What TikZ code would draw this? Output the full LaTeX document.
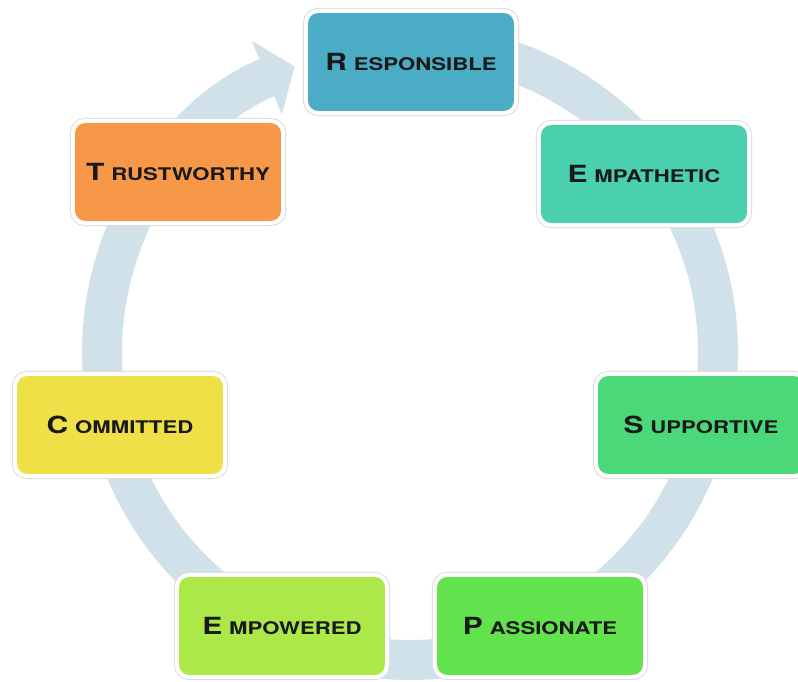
\documentclass[tikz,border=0pt]{standalone}
\usepackage{fontspec}
\newfontfamily\boxfont[FakeStretch=1.27]{TeX Gyre Heros}
\usetikzlibrary{arrows.meta}
\definecolor{ringblue}{HTML}{D0E1E9}
\definecolor{resp}{HTML}{4BACC6}
\definecolor{empa}{HTML}{4ACFAF}
\definecolor{supp}{HTML}{4AD878}
\definecolor{pass}{HTML}{62E24C}
\definecolor{empo}{HTML}{ACE848}
\definecolor{comm}{HTML}{F0E048}
\definecolor{trus}{HTML}{F79848}
\newcommand{\capword}[2]{{\fontsize{16.8}{18}\selectfont #1}\hspace{0.17cm}{\fontsize{12.4}{14}\selectfont #2}}
\tikzset{
  trait/.style={rectangle, rounded corners=0.3cm, minimum width=5.25cm,
    minimum height=2.55cm, inner sep=0pt, draw=white, line width=0.1cm,
    preaction={draw=gray!28, line width=0.15cm}, text=black!90,
    font=\boxfont\bfseries},
  ring/.style={draw=ringblue, line width=1cm,
    -{Triangle[width=1.95cm,length=0.75cm]}}
}

\begin{document}
\begin{tikzpicture}[x=0.025cm,y=-0.025cm]
  \useasboundingbox (0,0) rectangle (798,682);
  \clip (0,0) rectangle (798,682);
  % circular arrow behind the boxes
  \coordinate (hub) at (410,352);
  \draw[ring] (hub) ++(-85:308) arc[start angle=-85, end angle=248, radius=308];
  % traits
  \node[trait, fill=resp] (responsible) at (411,62)  {\capword{R}{ESPONSIBLE}};
  \node[trait, fill=empa] (empathetic)  at (644,174) {\capword{E}{MPATHETIC}};
  \node[trait, fill=supp] (supportive)  at (701,425) {\capword{S}{UPPORTIVE}};
  \node[trait, fill=pass] (passionate)  at (540,626) {\capword{P}{ASSIONATE}};
  \node[trait, fill=empo] (empowered)   at (282,626) {\capword{E}{MPOWERED}};
  \node[trait, fill=comm] (committed)   at (120,425) {\capword{C}{OMMITTED}};
  \node[trait, fill=trus] (trustworthy) at (178,172) {\capword{T}{RUSTWORTHY}};
\end{tikzpicture}
\end{document}
